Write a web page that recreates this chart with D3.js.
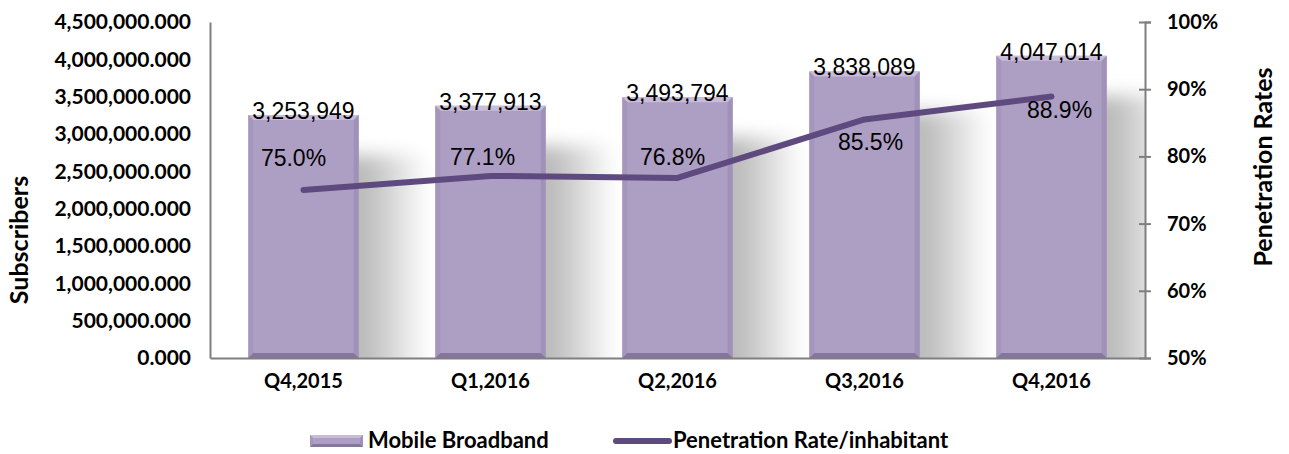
<!DOCTYPE html>
<html>
<head>
<meta charset="utf-8">
<script src="https://cdn.jsdelivr.net/npm/d3@7"></script>
<style>
  body { margin: 0; background: #fff; }
</style>
</head>
<body>
<div id="content"></div>
<script>
var width = 1289;
var height = 454;

// data
var quarters = ["Q4,2015", "Q1,2016", "Q2,2016", "Q3,2016", "Q4,2016"];
var subscribers = [3253949, 3377913, 3493794, 3838089, 4047014];
var penetration = [0.750, 0.771, 0.768, 0.855, 0.889];
var leftTicks = [0, 500000, 1000000, 1500000, 2000000, 2500000, 3000000, 3500000, 4000000, 4500000];
var rightTicks = [0.5, 0.6, 0.7, 0.8, 0.9, 1.0];

// where the percentage labels sit relative to their point (dx, dy)
var pctLabelPos = [[-10, -32], [-8, -19], [-5, -21], [6, 23], [8, 13]];

var margin = { top: 22, right: 144, bottom: 96, left: 210 };
var plotW = width - margin.left - margin.right;
var plotH = height - margin.top - margin.bottom;

var barColor = "#ad9fc4";
var lineColor = "#5f4a80";
var axisColor = "#7f7f7f";
var boldFont = "Lato, 'DejaVu Sans', sans-serif";
var labelFont = "'Liberation Sans', Arial, sans-serif";

var svg = d3.select("#content").append("svg")
    .attr("width", width)
    .attr("height", height);

var defs = svg.append("defs");
defs.append("filter")
    .attr("id", "shadowBlur")
    .attr("x", "-50%").attr("y", "-50%").attr("width", "200%").attr("height", "200%")
    .append("feGaussianBlur")
    .attr("stdDeviation", 9);
var grad = defs.append("linearGradient")
    .attr("id", "shadowGrad")
    .attr("x1", "0").attr("x2", "1").attr("y1", "0").attr("y2", "0");
grad.append("stop").attr("offset", "0").attr("stop-color", "#b4b4b4");
grad.append("stop").attr("offset", "0.35").attr("stop-color", "#bdbdbd");
grad.append("stop").attr("offset", "1").attr("stop-color", "#ffffff");
defs.append("clipPath").attr("id", "plotClip")
    .append("rect")
    .attr("x", 0).attr("y", -10)
    .attr("width", plotW).attr("height", plotH + 10);

var g = svg.append("g")
    .attr("transform", `translate(${margin.left}, ${margin.top})`);

var x = d3.scaleBand()
    .domain(quarters)
    .range([0, plotW])
    .paddingInner(0.41)
    .paddingOuter(0.205);

var yLeft = d3.scaleLinear()
    .domain([0, 4500000])
    .range([plotH, 0]);

var yRight = d3.scaleLinear()
    .domain([0.5, 1.0])
    .range([plotH, 0]);

// soft shadows to the right of the bars
g.append("g")
    .attr("clip-path", "url(#plotClip)")
    .selectAll("rect")
    .data(subscribers)
    .enter()
    .append("rect")
    .attr("x", (d, i) => x(quarters[i]) + x.bandwidth() - 25)
    .attr("y", d => yLeft(d) + 40)
    .attr("width", 95)
    .attr("height", d => plotH - yLeft(d))
    .attr("fill", "url(#shadowGrad)")
    .attr("filter", "url(#shadowBlur)");

// bars with bevel
function drawBar(sel, bx, by, bw, bh, bev) {
    sel.append("rect")
        .attr("x", bx).attr("y", by)
        .attr("width", bw).attr("height", bh)
        .attr("fill", barColor);
    sel.append("path")
        .attr("d", `M${bx},${by} L${bx + bw},${by} L${bx + bw - bev},${by + bev} L${bx + bev},${by + bev} Z`)
        .attr("fill", "#c8bcd9");
    sel.append("path")
        .attr("d", `M${bx},${by} L${bx + bev},${by + bev} L${bx + bev},${by + bh - bev} L${bx},${by + bh} Z`)
        .attr("fill", "#a596bd");
    sel.append("path")
        .attr("d", `M${bx + bw},${by} L${bx + bw - bev},${by + bev} L${bx + bw - bev},${by + bh - bev} L${bx + bw},${by + bh} Z`)
        .attr("fill", "#a091b8");
    sel.append("path")
        .attr("d", `M${bx},${by + bh} L${bx + bev},${by + bh - bev} L${bx + bw - bev},${by + bh - bev} L${bx + bw},${by + bh} Z`)
        .attr("fill", "#85769e");
}

var bars = g.append("g");
subscribers.forEach(function (d, i) {
    drawBar(bars.append("g"), x(quarters[i]), yLeft(d), x.bandwidth(), plotH - yLeft(d), 5);
});

// axes
var leftAxis = g.append("g")
    .call(d3.axisLeft(yLeft)
        .tickValues(leftTicks)
        .tickSize(0)
        .tickPadding(19)
        .tickFormat(d3.format(",.3f")));
leftAxis.select(".domain").attr("stroke", axisColor).attr("stroke-width", 2);

var rightAxis = g.append("g")
    .attr("transform", `translate(${plotW}, 0)`)
    .call(d3.axisRight(yRight)
        .tickValues(rightTicks)
        .tickSize(6)
        .tickPadding(16)
        .tickFormat(d3.format(".0%")));
rightAxis.select(".domain").attr("stroke", axisColor).attr("stroke-width", 2);
rightAxis.selectAll(".tick line")
    .attr("x1", -6)
    .attr("stroke", axisColor)
    .attr("stroke-width", 2);

var bottomAxis = g.append("g")
    .attr("transform", `translate(0, ${plotH})`)
    .call(d3.axisBottom(x).tickSize(0).tickPadding(16));
bottomAxis.select(".domain").attr("stroke", axisColor).attr("stroke-width", 2);

svg.selectAll(".tick text")
    .style("font-family", boldFont)
    .style("font-weight", "bold")
    .style("font-size", "20px")
    .attr("fill", "#000");
leftAxis.selectAll(".tick text").style("font-size", "21px");

// penetration line
var line = d3.line()
    .x((d, i) => x(quarters[i]) + x.bandwidth() / 2)
    .y(d => yRight(d));

g.append("path")
    .datum(penetration)
    .attr("d", line)
    .attr("fill", "none")
    .attr("stroke", lineColor)
    .attr("stroke-width", 6)
    .attr("stroke-linecap", "round")
    .attr("stroke-linejoin", "round");

// value labels
g.selectAll(".val")
    .data(subscribers)
    .enter()
    .append("text")
    .attr("class", "val")
    .attr("x", (d, i) => x(quarters[i]) + x.bandwidth() / 2)
    .attr("y", d => yLeft(d) + 4)
    .attr("text-anchor", "middle")
    .style("font-family", labelFont)
    .style("font-size", "23px")
    .text(d => d3.format(",")(d));

g.selectAll(".pct")
    .data(penetration)
    .enter()
    .append("text")
    .attr("class", "pct")
    .attr("x", (d, i) => x(quarters[i]) + x.bandwidth() / 2 + pctLabelPos[i][0])
    .attr("y", (d, i) => yRight(d) + pctLabelPos[i][1])
    .attr("dy", "0.35em")
    .attr("text-anchor", "middle")
    .style("font-family", labelFont)
    .style("font-size", "23px")
    .text(d => d3.format(".1%")(d));

// axis titles
svg.append("text")
    .attr("transform", "translate(28, 240) rotate(-90)")
    .attr("text-anchor", "middle")
    .style("font-family", boldFont)
    .style("font-weight", "bold")
    .style("font-size", "25px")
    .text("Subscribers");

svg.append("text")
    .attr("transform", "translate(1272, 167) rotate(-90)")
    .attr("text-anchor", "middle")
    .style("font-family", boldFont)
    .style("font-weight", "bold")
    .style("font-size", "25px")
    .text("Penetration Rates");

// legend
var legend = svg.append("g").attr("transform", "translate(0, 440)");
drawBar(legend.append("g"), 310, -5, 53, 12, 3);
legend.append("text")
    .attr("x", 368).attr("y", 0).attr("dy", "0.35em")
    .style("font-family", boldFont)
    .style("font-weight", "bold")
    .style("font-size", "22px")
    .text("Mobile Broadband");
legend.append("line")
    .attr("x1", 616).attr("x2", 669)
    .attr("y1", 1).attr("y2", 1)
    .attr("stroke", lineColor)
    .attr("stroke-width", 6)
    .attr("stroke-linecap", "round");
legend.append("text")
    .attr("x", 673).attr("y", 0).attr("dy", "0.35em")
    .style("font-family", boldFont)
    .style("font-weight", "bold")
    .style("font-size", "22px")
    .text("Penetration Rate/inhabitant");
</script>
</body>
</html>
